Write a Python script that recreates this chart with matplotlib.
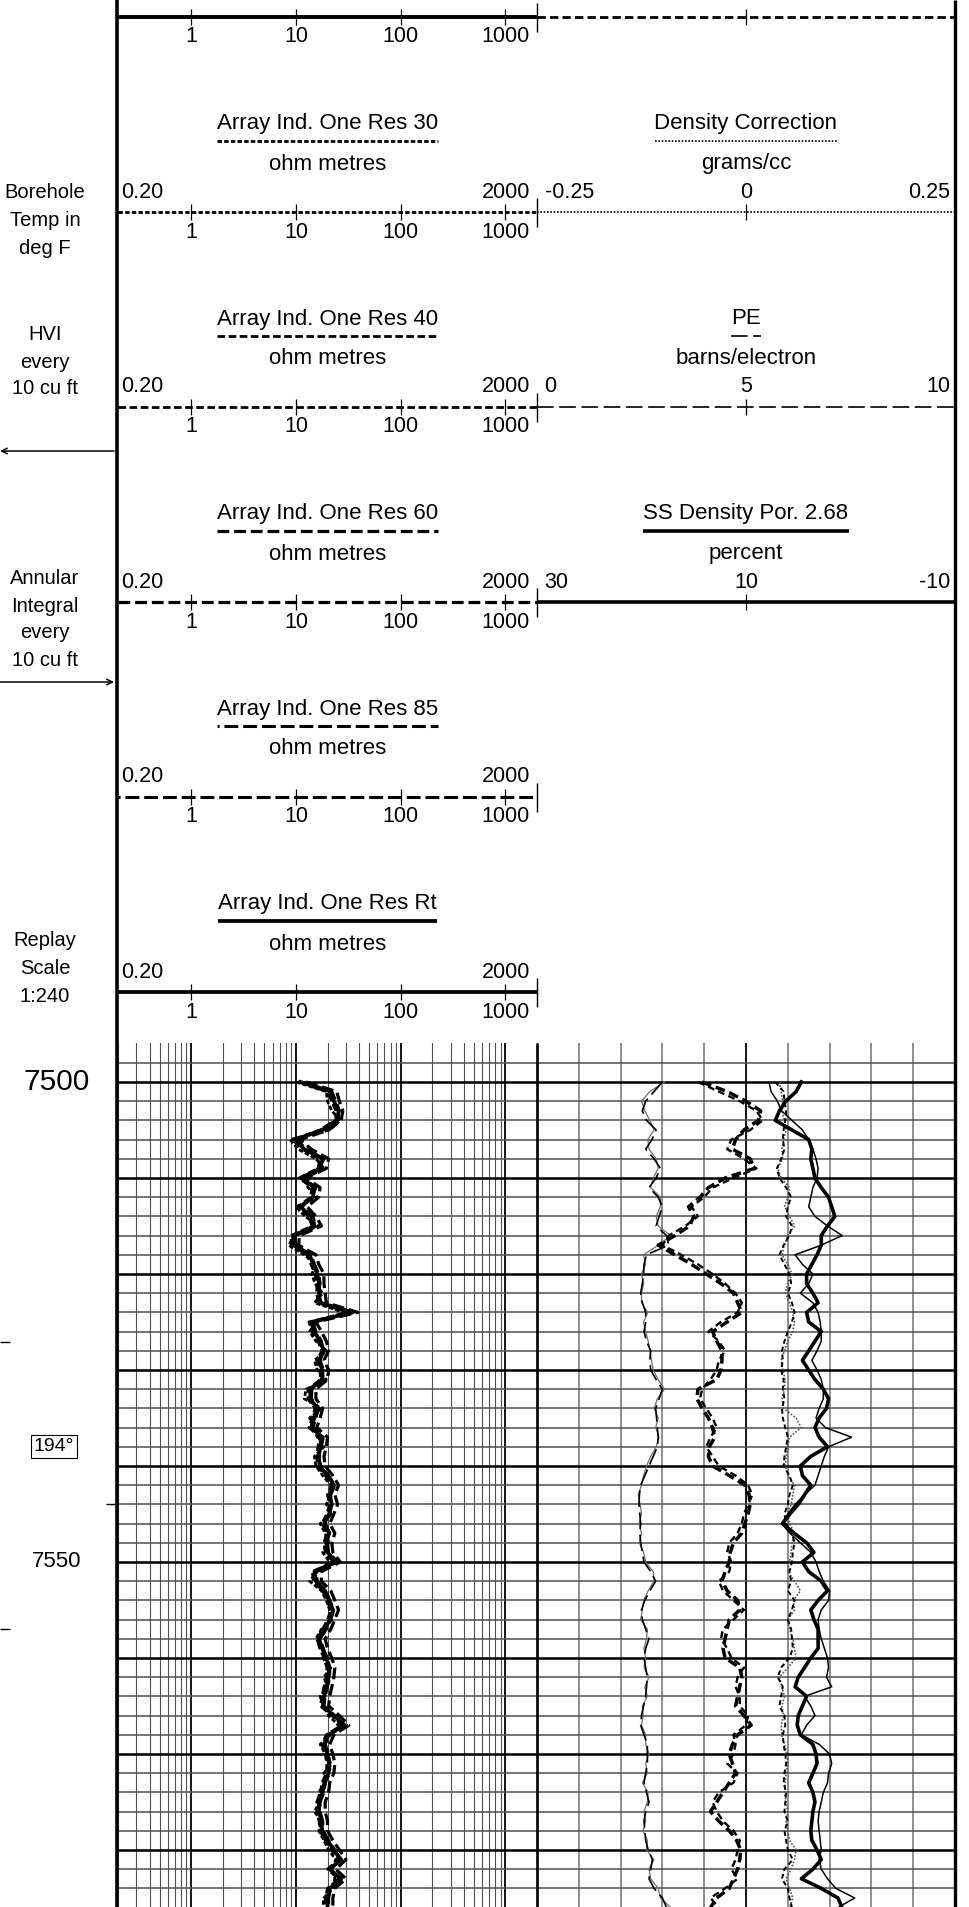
import numpy as np
import matplotlib
matplotlib.use("Agg")
import matplotlib.pyplot as plt
from matplotlib.ticker import FixedLocator, LogLocator, MultipleLocator

plt.rcParams['font.family'] = ['Liberation Sans', 'DejaVu Sans']
plt.rcParams['lines.scale_dashes'] = False

# ---------------- data (1 ft samples, 7500 - 7586 ft) ----------------
depth = np.arange(7500, 7587)

# Track 1: array induction resistivities, ohm.m
res_rt = [11, 21.5, 23, 25.5, 25, 18, 9.8, 12, 18, 17,
          11.2, 15, 14.5, 11, 14, 15, 9.5, 9.5, 13.5, 14.6,
          16, 16.6, 16.6, 17, 35, 14, 15, 17, 18.6, 16.6,
          17.8, 18, 13.7, 13.7, 16, 15, 14, 17.8, 17, 16.6,
          16.8, 20, 23, 21, 22, 20.7, 18.6, 20.7, 19.5, 20,
          24, 15, 15.5, 19, 20.7, 22.6, 21, 19, 16.6, 17.8,
          19.5, 20.7, 20.5, 19.5, 18.6, 18, 23, 29, 20.5, 18.6,
          20, 20.7, 20.5, 18.6, 18, 16.6, 16.6, 17.5, 17.8, 20,
          23, 27, 21, 27, 21, 20, 20]
res_85 = [11.5, 22, 24, 26, 24, 17, 10.2, 12.5, 18.5, 16.5,
          11.8, 15.5, 14, 11.5, 14.5, 15.5, 9.8, 9.8, 14, 15,
          16.5, 17, 16, 17.5, 33, 14.5, 15.5, 17.5, 18, 17,
          18.3, 17.5, 14.2, 14, 16.5, 15.5, 14.5, 18.2, 17.5, 16.2,
          17.3, 20.5, 23.5, 21.5, 21.5, 21.2, 19, 21, 20, 20.5,
          25, 15.5, 16, 19.5, 21, 23, 21.5, 19.5, 17, 18.2,
          20, 21, 21, 20, 19, 18.5, 23.5, 28, 21, 19,
          20.5, 21, 21, 19, 18.5, 17, 17, 18, 18.2, 20.5,
          23.5, 26, 21.5, 26, 21.5, 20.5, 20.5]
res_60 = [12.5, 24.5, 26, 28, 27, 20.5, 11, 14, 20.5, 19.5,
          12.5, 17, 16.5, 12.8, 15.5, 17.5, 10.8, 10.6, 15.5, 16.5,
          18.5, 18.5, 19, 19.5, 39, 15.5, 17.5, 19.5, 20.5, 18.5,
          20.5, 20, 15.5, 15.5, 18, 17, 15.8, 20, 19.5, 18.5,
          19, 22.5, 25.5, 23.5, 25, 23, 21, 23.5, 22, 22.5,
          26.5, 17.5, 17.5, 21.5, 23.5, 25.5, 23.5, 21.5, 19, 20,
          22, 23.5, 23, 22, 21, 20.5, 26, 32, 23, 21,
          22.5, 23.5, 23, 21, 20.5, 19, 19, 20, 20, 22.5,
          26, 30, 24, 30, 23.5, 22.5, 22.5]
res_40 = [10.5, 20, 22, 24, 24, 17, 9.3, 11.4, 17, 16.2,
          10.7, 14.2, 13.8, 10.4, 13.3, 14.2, 9, 9, 12.8, 13.9,
          15.2, 15.8, 15.8, 16.2, 32, 13.3, 14.3, 16.2, 17.7, 15.8,
          17, 17.1, 13, 13, 15.2, 14.3, 13.3, 16.9, 16.2, 15.8,
          16, 19, 21.9, 20, 20.9, 19.7, 17.7, 19.7, 18.5, 19,
          22.8, 14.3, 14.7, 18, 19.7, 21.5, 20, 18, 15.8, 16.9,
          18.5, 19.7, 19.5, 18.5, 17.7, 17.1, 21.9, 27.5, 19.5, 17.7,
          19, 19.7, 19.5, 17.7, 17.1, 15.8, 15.8, 16.6, 16.9, 19,
          21.9, 25.5, 20, 25.5, 20, 19, 19]
res_30 = [10, 19.5, 20, 22, 26.5, 21, 8.8, 10.5, 15.5, 18.5,
          12.5, 13, 16, 10, 12.2, 16.5, 9.8, 8.5, 12, 15.5,
          14.2, 15.2, 18, 15, 29, 15.5, 13.5, 15.5, 19.5, 15,
          16, 19.5, 12.5, 12, 17.5, 13.5, 14.5, 16, 18.5, 15,
          15.5, 18, 21.5, 21.5, 19.5, 22, 17, 19, 20.5, 18,
          21, 16, 13.5, 17.5, 19.5, 21, 22, 17.5, 15.5, 18.5,
          18, 21.5, 18.5, 20, 17, 18.5, 20.5, 25.5, 21.5, 17,
          19, 21.5, 18.5, 19.5, 16.5, 17, 15, 17.5, 16.5, 18.5,
          20.5, 24, 22, 23.5, 22, 18.5, 18]

# Track 2: PE (barns/electron), main and repeat
pe_main = [3.0, 2.8, 2.6, 2.52, 2.62, 2.85, 2.75, 2.6, 2.8, 2.95,
           2.85, 2.68, 2.9, 3.0, 2.92, 2.85, 3.1, 3.15, 2.62, 2.56,
           2.55, 2.52, 2.48, 2.52, 2.6, 2.6, 2.56, 2.62, 2.72, 2.7,
           2.72, 2.85, 3.0, 2.92, 2.84, 2.86, 2.88, 2.9, 2.88, 2.78,
           2.68, 2.58, 2.48, 2.45, 2.44, 2.46, 2.48, 2.46, 2.48, 2.52,
           2.56, 2.72, 2.84, 2.7, 2.58, 2.5, 2.52, 2.6, 2.68, 2.6,
           2.56, 2.6, 2.64, 2.62, 2.6, 2.55, 2.5, 2.48, 2.56, 2.64,
           2.64, 2.64, 2.6, 2.56, 2.62, 2.68, 2.6, 2.56, 2.58, 2.6,
           2.66, 2.76, 2.72, 2.68, 2.8, 3.0, 3.1]
pe_rep = [3.05, 2.7, 2.5, 2.58, 2.7, 2.8, 2.65, 2.68, 2.85, 2.9,
          2.78, 2.72, 2.95, 2.95, 2.85, 2.9, 3.2, 2.9, 2.55, 2.6,
          2.5, 2.55, 2.5, 2.5, 2.65, 2.55, 2.6, 2.66, 2.7, 2.74,
          2.78, 2.9, 3.05, 2.88, 2.8, 2.9, 2.84, 2.92, 2.85, 2.72,
          2.62, 2.55, 2.5, 2.42, 2.47, 2.5, 2.44, 2.5, 2.45, 2.55,
          2.6, 2.78, 2.8, 2.66, 2.55, 2.52, 2.48, 2.64, 2.62, 2.56,
          2.6, 2.56, 2.68, 2.58, 2.64, 2.52, 2.54, 2.5, 2.6, 2.6,
          2.68, 2.6, 2.64, 2.52, 2.66, 2.64, 2.56, 2.6, 2.54, 2.64,
          2.62, 2.8, 2.68, 2.72, 2.9, 2.95, 3.2]

# Track 2: neutron porosity (percent, 30 .. -10), main and repeat
nphi_main = [14.2, 11.8, 10, 8.6, 8.8, 10.2, 11, 11.3, 9.6, 9.2,
             12, 13.6, 14.4, 15.5, 15, 15.4, 16.8, 18.4, 16.8, 15.2,
             13.8, 12.4, 11.2, 10.8, 10.4, 11.8, 13.2, 12.8, 12.3, 12.3,
             12.4, 12.8, 14.6, 14.7, 14.2, 13.6, 13.2, 13, 13.5, 13.6,
             13.2, 11.6, 10.1, 9.7, 9.6, 9.8, 10.1, 10.4, 11.2, 11.5,
             11.6, 12, 12.3, 11.8, 10.8, 10.6, 11.6, 11.8, 12, 12.2,
             12, 10.6, 10.4, 10.6, 10.8, 11, 10.2, 9.5, 10.8, 11.3,
             11.6, 11.3, 11, 11.6, 12.2, 12.8, 13.4, 12.6, 11.6, 10.9,
             10.5, 10.6, 10.8, 11.2, 11.6, 12.8, 13.4]
nphi_rep = [14.6, 12.6, 10.6, 9.0, 8.4, 9.6, 11.4, 11.8, 10.2, 9.0,
            11.2, 13.2, 14.0, 15.2, 14.6, 15.8, 17.4, 18.0, 16.2, 14.6,
            13.2, 12.0, 11.0, 10.4, 10.8, 12.4, 13.6, 12.6, 12.0, 12.6,
            12.8, 13.4, 14.2, 14.4, 13.8, 13.2, 12.8, 13.4, 13.8, 13.2,
            12.6, 11.0, 9.8, 9.4, 9.8, 10.2, 10.4, 10.8, 11.6, 11.8,
            11.4, 11.6, 12.6, 12.2, 11.2, 10.2, 11.2, 12.2, 12.4, 11.8,
            11.4, 10.2, 10.8, 11.0, 10.6, 10.6, 9.8, 10.0, 11.2, 11.0,
            11.2, 11.8, 10.8, 11.2, 12.6, 13.2, 12.8, 12.2, 11.2, 10.6,
            10.8, 11.0, 11.4, 10.8, 12.0, 13.4, 12.6]

# Track 2: density correction (g/cc), main and repeat
dcor_main = [0.04, 0.042, 0.044, 0.043, 0.046, 0.048, 0.045, 0.043, 0.044, 0.038,
             0.042, 0.052, 0.05, 0.046, 0.052, 0.058, 0.05, 0.046, 0.043, 0.05,
             0.055, 0.05, 0.047, 0.052, 0.056, 0.058, 0.056, 0.05, 0.046, 0.042,
             0.044, 0.047, 0.046, 0.043, 0.045, 0.06, 0.066, 0.052, 0.05, 0.048,
             0.047, 0.05, 0.058, 0.056, 0.054, 0.05, 0.052, 0.058, 0.055, 0.054,
             0.052, 0.05, 0.058, 0.065, 0.057, 0.058, 0.05, 0.052, 0.056, 0.058,
             0.06, 0.05, 0.04, 0.043, 0.046, 0.043, 0.045, 0.042, 0.043, 0.046,
             0.049, 0.05, 0.048, 0.047, 0.046, 0.048, 0.05, 0.048, 0.05, 0.052,
             0.06, 0.058, 0.054, 0.048, 0.052, 0.056, 0.052]
dcor_rep = [0.035, 0.045, 0.046, 0.048, 0.047, 0.045, 0.044, 0.046, 0.042, 0.037,
            0.04, 0.048, 0.054, 0.05, 0.048, 0.055, 0.052, 0.045, 0.04, 0.046,
            0.052, 0.054, 0.05, 0.055, 0.058, 0.055, 0.05, 0.046, 0.043, 0.044,
            0.042, 0.045, 0.044, 0.046, 0.043, 0.044, 0.047, 0.05, 0.048, 0.046,
            0.045, 0.052, 0.056, 0.052, 0.05, 0.046, 0.048, 0.055, 0.058, 0.056,
            0.055, 0.052, 0.054, 0.05, 0.058, 0.055, 0.05, 0.054, 0.055, 0.056,
            0.052, 0.042, 0.038, 0.044, 0.042, 0.04, 0.046, 0.047, 0.044, 0.045,
            0.047, 0.048, 0.046, 0.045, 0.048, 0.047, 0.046, 0.05, 0.046, 0.048,
            0.05, 0.056, 0.046, 0.043, 0.05, 0.052, 0.055]

# Track 2: SS density porosity (percent, 30 .. -10), main and repeat
dphi_main = [4.7, 5.2, 6.2, 6.8, 7.2, 5.6, 4.0, 3.7, 3.8, 3.6,
             3.4, 2.8, 2.1, 1.8, 1.5, 2.2, 2.8, 2.8, 3.2, 3.7,
             4.2, 4.2, 3.6, 3.1, 4.2, 4.0, 2.8, 3.4, 4.0, 4.6,
             4.0, 3.4, 2.6, 2.1, 2.3, 3.0, 3.4, 3.0, 2.2, 3.8,
             4.8, 4.6, 3.8, 4.4, 5.0, 5.8, 6.5, 5.4, 4.2, 3.5,
             4.6, 4.0, 2.8, 2.2, 3.1, 3.8, 3.5, 3.1, 3.1, 3.1,
             3.8, 4.4, 5.0, 5.3, 4.2, 4.6, 5.0, 5.1, 4.8, 3.6,
             3.3, 3.2, 3.6, 4.0, 3.6, 3.4, 3.6, 3.7, 3.8, 3.7,
             3.2, 2.8, 3.6, 4.7, 2.8, 1.2, 0.8]
dphi_rep = [7.8, 7.6, 7.0, 6.6, 5.6, 4.6, 4.0, 3.6, 3.3, 3.1,
            3.2, 3.6, 3.8, 4.0, 3.4, 2.2, 0.8, 2.8, 5.3, 4.6,
            3.6, 4.0, 4.8, 3.6, 3.1, 2.9, 2.8, 2.8, 3.2, 3.7,
            3.2, 2.8, 2.6, 2.6, 3.0, 3.3, 2.4, -0.1, 2.1, 2.5,
            2.8, 3.1, 3.4, 4.4, 5.3, 6.0, 6.6, 5.8, 4.8, 3.8,
            3.3, 3.0, 2.6, 2.0, 2.1, 2.8, 3.1, 3.0, 2.8, 2.5,
            2.2, 2.1, 2.3, 1.8, 4.4, 3.8, 3.4, 4.2, 4.7, 3.0,
            2.0, 1.8, 2.1, 2.2, 2.6, 2.8, 3.0, 3.1, 3.0, 2.9,
            2.8, 3.0, 2.8, 2.2, 1.4, -0.4, 1.2]

# depth track annotations
depth_labels = [7500, 7550]
depth_label_sizes = [21.5, 16]
temp_depth, temp_text = 7538, '194\u00b0'
hvi_ticks = [7527.1, 7557.0]
annular_ticks = [7544.0]

# header
t1_titles = [None, 'Array Ind. One Res 30', 'Array Ind. One Res 40',
             'Array Ind. One Res 60', 'Array Ind. One Res 85', 'Array Ind. One Res Rt']
t1_units = [None] + ['ohm metres'] * 5
t1_ticks = [1, 10, 100, 1000]
t1_ticklabels = ['1', '10', '100', '1000']
t2_titles = [None, 'Density Correction', 'PE', 'SS Density Por. 2.68']
t2_units = [None, 'grams/cc', 'barns/electron', 'percent']
t2_scales = [None, ('-0.25', '0', '0.25'), ('0', '5', '10'), ('30', '10', '-10')]

side_labels = [('Borehole', 192), ('Temp in', 220), ('deg F', 248),
               ('HVI', 335), ('every', 362), ('10 cu ft', 389),
               ('Annular', 579), ('Integral', 606), ('every', 633), ('10 cu ft', 660),
               ('Replay', 941), ('Scale', 968), ('1:240', 996)]

# ---------------- styles ----------------
sty_top1 = dict(ls='-', lw=2.8)
sty_r30 = dict(ls=(0, (3.2, 1.6)), lw=2.0)
sty_r40 = dict(ls=(0, (5.5, 2.5)), lw=2.0)
sty_r60 = dict(ls=(0, (8.5, 3.5)), lw=2.3)
sty_r85 = dict(ls=(8.5, (10, 3.5)), lw=2.2)
sty_rt = dict(ls='-', lw=2.7)
t1_styles = [sty_top1, sty_r30, sty_r40, sty_r60, sty_r85, sty_rt]

sty_top2 = dict(ls=(0, (6, 3)), lw=2.0)
sty_dc = dict(ls=(0, (1.2, 1.2)), lw=1.2)
sty_pe = dict(ls=(0, (12, 4)), lw=1.2)
sty_dp = dict(ls='-', lw=2.6)
t2_styles = [sty_top2, sty_dc, sty_pe, sty_dp]

# ---------------- layout (pixels) ----------------
W, H = 969, 1907
X_T1, X_T2, X_END = 118, 537, 955
Y_LOG = 1043
TOP_D, BOT_D = 7495.94, 7585.94
ROW0, ROW_DY = 17, 195


def rect(x0, y0, x1, y1):
    return [x0 / W, 1 - y1 / H, (x1 - x0) / W, (y1 - y0) / H]


fig = plt.figure(figsize=(W / 100, H / 100), dpi=100)
fig.patch.set_facecolor('white')

# ---- log tracks ----
ax0 = fig.add_axes(rect(0, Y_LOG, X_T1, H))
ax1 = fig.add_axes(rect(X_T1, Y_LOG, X_T2, H), sharey=ax0)
ax2 = fig.add_axes(rect(X_T2, Y_LOG, X_END, H), sharey=ax0)
ax0.set_ylim(BOT_D, TOP_D)
ax0.axis('off')

major_depths = FixedLocator(np.arange(7500, 7590, 10))
minor_depths = FixedLocator(np.arange(7498, 7590, 2))

ax1.set_xscale('log')
ax1.set_xlim(0.2, 2000)
ax1.xaxis.set_major_locator(FixedLocator(t1_ticks))
ax1.xaxis.set_minor_locator(LogLocator(base=10, subs=range(2, 10), numticks=20))
ax2.set_xlim(0, 10)
ax2.xaxis.set_major_locator(MultipleLocator(5))
ax2.xaxis.set_minor_locator(MultipleLocator(1))

for ax in (ax1, ax2):
    ax.yaxis.set_major_locator(major_depths)
    ax.yaxis.set_minor_locator(minor_depths)
    ax.tick_params(which='both', length=0, labelbottom=False, labelleft=False)
    for s in ax.spines.values():
        s.set_visible(False)
    ax.set_facecolor('none')
    ax.grid(which='major', axis='y', color='black', lw=1.8)
    ax.grid(which='minor', axis='y', color='#505050', lw=1.1)
ax1.grid(which='major', axis='x', color='black', lw=1.3)
ax1.grid(which='minor', axis='x', color='#505050', lw=0.8)
ax2.grid(which='major', axis='x', color='black', lw=1.3)
ax2.grid(which='minor', axis='x', color='#707070', lw=1.1)

# resistivity curves
for vals, sty in [(res_30, sty_r30), (res_40, sty_r40), (res_60, sty_r60),
                  (res_85, sty_r85), (res_rt, sty_rt)]:
    ax1.plot(vals, depth, color='black', **sty)

# track 2 curves on their own scales
ax_pe = fig.add_axes(rect(X_T2, Y_LOG, X_END, H), sharey=ax0)
ax_pe.set_xlim(0, 10)
ax_dc = fig.add_axes(rect(X_T2, Y_LOG, X_END, H), sharey=ax0)
ax_dc.set_xlim(-0.25, 0.25)
ax_por = fig.add_axes(rect(X_T2, Y_LOG, X_END, H), sharey=ax0)
ax_por.set_xlim(30, -10)
for ax in (ax_pe, ax_dc, ax_por):
    ax.axis('off')
    ax.set_facecolor('none')

ax_pe.plot(pe_rep, depth, color='#6e6e6e', lw=0.9)
ax_pe.plot(pe_main, depth, color='black', **sty_pe)
ax_dc.plot(dcor_main, depth, color='#555555', ls=(0, (1.2, 1.2)), lw=1.2)
ax_dc.plot(dcor_rep, depth, color='black', ls=(0, (3.5, 2.2)), lw=1.4)
ax_por.plot(nphi_rep, depth, color='black', ls=(0, (5, 3)), lw=1.7)
ax_por.plot(nphi_main, depth, color='black', ls=(0, (7, 3.5)), lw=2.5)
ax_por.plot(dphi_rep, depth, color='black', lw=1.1)
ax_por.plot(dphi_main, depth, color='black', lw=2.6)

# depth track
yx = ax0.get_yaxis_transform()
for d, fs in zip(depth_labels, depth_label_sizes):
    ax0.text(0.48, d, str(d), transform=yx, ha='center', va='center', fontsize=fs)
ax0.text(0.455, temp_depth, temp_text, transform=yx, ha='center', va='center', fontsize=14,
         bbox=dict(boxstyle='square,pad=0.15', fc='white', ec='black', lw=0.8))
ax0.hlines(hvi_ticks, 0, 0.085, transform=yx, color='black', lw=1.0)
ax0.hlines(annular_ticks, 0.9, 1.0, transform=yx, color='black', lw=1.0)

# ---- header ----
h1 = fig.add_axes(rect(X_T1, 0, X_T2, Y_LOG))
h1.set_xscale('log')
h1.set_xlim(0.2, 2000)
h1.set_ylim(Y_LOG, 0)
h2 = fig.add_axes(rect(X_T2, 0, X_END, Y_LOG))
h2.set_xlim(0, 1)
h2.set_ylim(Y_LOG, 0)
for ax in (h1, h2):
    ax.axis('off')
    ax.set_facecolor('none')

samples = []
FS = 16
for k in range(6):
    ly = ROW0 + k * ROW_DY
    hx = h1.get_yaxis_transform()
    h1.plot([0.2, 2000], [ly, ly], color='black', solid_capstyle='butt', **t1_styles[k])
    h1.vlines(t1_ticks, ly - 8, ly + 8, color='black', lw=0.9)
    for v, lab in zip(t1_ticks, t1_ticklabels):
        h1.text(v, ly + 20, lab, ha='center', va='center', fontsize=15.5)
    if t1_titles[k]:
        t = h1.text(0.5, ly - 88, t1_titles[k], transform=hx, ha='center', va='center', fontsize=FS)
        samples.append((h1, t, ly, t1_styles[k]))
        h1.text(0.5, ly - 48, t1_units[k], transform=hx, ha='center', va='center', fontsize=FS)
        h1.text(0.008, ly - 20, '0.20', transform=hx, ha='left', va='center', fontsize=15.5)
        h1.text(0.985, ly - 20, '2000', transform=hx, ha='right', va='center', fontsize=15.5)
    if k < len(t2_styles):
        hx2 = h2.get_yaxis_transform()
        h2.plot([0, 1], [ly, ly], color='black', solid_capstyle='butt', **t2_styles[k])
        h2.vlines([0.5], ly - 8, ly + 8, color='black', lw=0.9)
        if t2_titles[k]:
            t = h2.text(0.5, ly - 88, t2_titles[k], transform=hx2, ha='center', va='center', fontsize=FS)
            samples.append((h2, t, ly, t2_styles[k]))
            h2.text(0.5, ly - 48, t2_units[k], transform=hx2, ha='center', va='center', fontsize=FS)
            lo, mid, hi = t2_scales[k]
            h2.text(0.018, ly - 20, lo, transform=hx2, ha='left', va='center', fontsize=15.5)
            h2.text(0.5, ly - 20, mid, transform=hx2, ha='center', va='center', fontsize=15.5)
            h2.text(0.988, ly - 20, hi, transform=hx2, ha='right', va='center', fontsize=15.5)

# ---- frame: borders, side labels, arrows ----
frame = fig.add_axes([0, 0, 1, 1])
frame.set_xlim(0, W)
frame.set_ylim(H, 0)
frame.axis('off')
frame.set_facecolor('none')
frame.vlines([117.5], 0, H, color='black', lw=2.6)
frame.vlines([X_END], 0, H, color='black', lw=2.4)
frame.vlines([X_T2], Y_LOG, H, color='black', lw=1.9)
for k in range(6):
    ly = ROW0 + k * ROW_DY
    frame.vlines([X_T2], max(ly - 14, 0), ly + 15, color='black', lw=1.0)
for txt, y in side_labels:
    frame.text(45, y, txt, ha='center', va='center', fontsize=14.5)
frame.annotate('', xy=(0, 451), xytext=(114, 451),
               arrowprops=dict(arrowstyle='->', lw=1.1, color='black', shrinkA=0, shrinkB=0))
frame.annotate('', xy=(114, 682), xytext=(0, 682),
               arrowprops=dict(arrowstyle='->', lw=1.1, color='black', shrinkA=0, shrinkB=0))

# legend sample lines under the curve titles
fig.canvas.draw()
rend = fig.canvas.get_renderer()
for ax, t, ly, sty in samples:
    bb = t.get_window_extent(rend)
    inv = ax.transData.inverted()
    xa = inv.transform((bb.x0, bb.y0))[0]
    xb = inv.transform((bb.x1, bb.y0))[0]
    ax.plot([xa, xb], [ly - 71, ly - 71], color='black', solid_capstyle='butt', **sty)

fig.savefig('out.png', dpi=100, facecolor='white')
